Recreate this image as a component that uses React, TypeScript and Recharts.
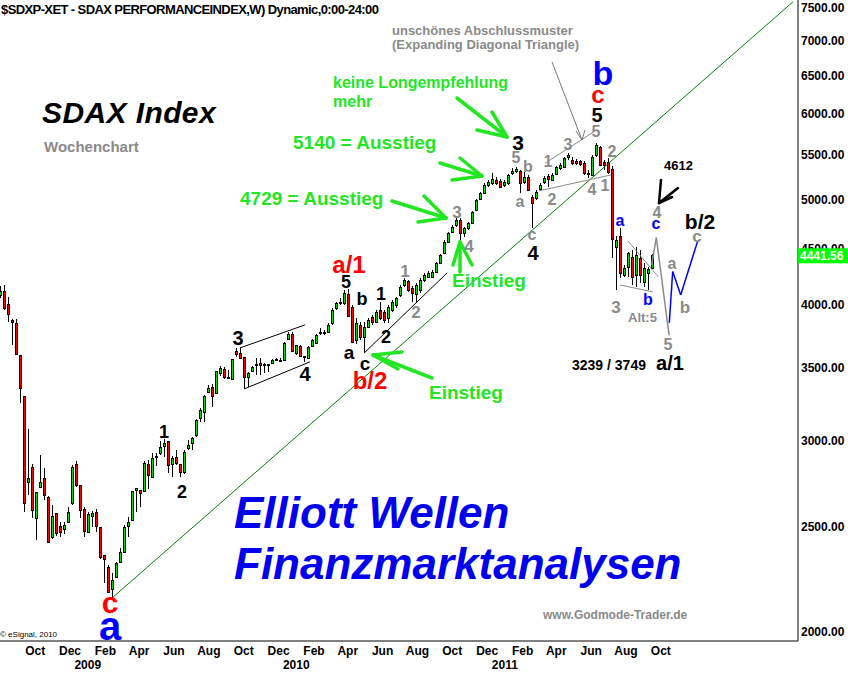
import React from 'react'
import { ComposedChart, Bar, XAxis, YAxis, ReferenceLine } from 'recharts'

// weekly candles [open, high, low, close]; bar 0 = week of 1 Aug 2008
const ohlc2008 = [
  [4085, 4160, 4060, 4120], [4119, 4171, 3956, 3973], [4007, 4067, 3857, 3923], [3873, 3881, 3673, 3857],
  [3849, 3881, 3597, 3605], [3597, 3597, 3250, 3354], [3298, 3298, 2579, 2629], [2749, 3075, 2674, 2772],
  [2837, 2855, 2547, 2590], [2547, 2692, 2431, 2692], [2720, 2910, 2720, 2749], [2772, 2831, 2645, 2674],
  [2663, 2669, 2420, 2420], [2446, 2617, 2436, 2557], [2574, 2574, 2452, 2467], [2504, 2525, 2446, 2472],
  [2488, 2525, 2462, 2509], [2525, 2606, 2520, 2579], [2629, 2849, 2617, 2837], [2855, 2873, 2720, 2732],
  [2732, 2732, 2547, 2590], [2595, 2606, 2446, 2478],
]
const ohlc2009 = [
  [2472, 2579, 2467, 2568], [2557, 2584, 2499, 2574], [2579, 2595, 2472, 2504], [2499, 2499, 2335, 2345],
  [2355, 2355, 2219, 2335], [2296, 2306, 2172, 2177], [2191, 2267, 2150, 2233], [2248, 2320, 2248, 2316],
  [2320, 2390, 2316, 2369], [2369, 2509, 2365, 2499], [2504, 2552, 2446, 2525], [2536, 2697, 2536, 2697],
  [2703, 2715, 2579, 2715], [2703, 2703, 2606, 2686], [2697, 2873, 2697, 2861], [2855, 2879, 2709, 2790],
  [2778, 2922, 2772, 2891], [2898, 2922, 2843, 2904], [2922, 2998, 2910, 2960], [2967, 3010, 2898, 2985],
  [2998, 2998, 2801, 2849], [2855, 2904, 2778, 2891], [2898, 2941, 2849, 2861], [2855, 2855, 2778, 2807],
  [2807, 2941, 2795, 2929], [2954, 3004, 2941, 2973], [2985, 3023, 2941, 3017], [3036, 3141, 3023, 3134],
  [3147, 3214, 3121, 3201], [3187, 3305, 3121, 3298], [3326, 3375, 3326, 3354], [3361, 3382, 3222, 3298],
  [3319, 3477, 3319, 3477], [3462, 3514, 3440, 3499], [3491, 3506, 3418, 3433], [3433, 3484, 3418, 3426],
  [3418, 3566, 3411, 3566], [3627, 3650, 3582, 3605], [3612, 3650, 3566, 3574], [3582, 3582, 3347, 3433],
  [3433, 3469, 3361, 3462], [3477, 3514, 3469, 3506], [3522, 3574, 3447, 3529], [3537, 3574, 3447, 3522],
  [3529, 3537, 3462, 3522], [3522, 3529, 3469, 3529], [3537, 3566, 3537, 3559], [3555, 3575, 3550, 3562],
  [3560, 3575, 3540, 3555], [3559, 3697, 3559, 3688], [3720, 3776, 3712, 3760], [3760, 3776, 3620, 3627],
]
const ohlc2010 = [
  [3612, 3673, 3597, 3673], [3665, 3673, 3582, 3590], [3582, 3590, 3544, 3590], [3574, 3665, 3566, 3658],
  [3665, 3720, 3658, 3712], [3688, 3760, 3681, 3752], [3768, 3808, 3752, 3776], [3776, 3792, 3752, 3768],
  [3776, 3849, 3768, 3833], [3849, 3973, 3833, 3956], [3973, 4024, 3956, 4015], [4015, 4059, 3998, 4024],
  [4015, 4128, 3998, 4102], [4093, 4136, 3898, 3906], [3982, 3998, 3688, 3697], [3712, 3890, 3681, 3849],
  [3833, 3857, 3712, 3736], [3736, 3857, 3612, 3817], [3817, 3890, 3808, 3873], [3898, 3915, 3833, 3857],
  [3857, 3956, 3849, 3940], [3956, 4024, 3873, 3890], [3940, 3956, 3849, 3873], [3890, 3998, 3849, 3982],
  [3956, 4041, 3940, 4024], [3998, 4067, 3973, 4059], [4085, 4171, 4067, 4154], [4171, 4234, 4154, 4216],
  [4207, 4216, 4110, 4128], [4145, 4162, 4024, 4102], [4093, 4189, 4024, 4171], [4128, 4234, 4102, 4216],
  [4216, 4279, 4198, 4261], [4243, 4297, 4234, 4279], [4243, 4306, 4234, 4288], [4288, 4380, 4279, 4371],
  [4371, 4455, 4362, 4446], [4465, 4589, 4455, 4570], [4570, 4667, 4560, 4657], [4667, 4737, 4657, 4717],
  [4737, 4808, 4717, 4787], [4787, 4808, 4589, 4657], [4657, 4717, 4618, 4707], [4707, 4767, 4687, 4757],
  [4757, 4880, 4747, 4870], [4890, 5006, 4880, 4994], [5006, 5081, 4994, 5070], [5070, 5178, 5059, 5156],
  [5156, 5211, 5135, 5189], [5178, 5289, 5156, 5222], [5211, 5244, 5156, 5178], [5200, 5222, 5124, 5135],
]
const ohlc2011 = [
  [5156, 5211, 5135, 5189], [5178, 5278, 5156, 5266], [5289, 5346, 5266, 5311], [5311, 5358, 5289, 5335],
  [5311, 5322, 5070, 5178], [5189, 5300, 5167, 5244], [5244, 5266, 5091, 5102], [5027, 5048, 4707, 4963],
  [5016, 5102, 4994, 5081], [5113, 5178, 5102, 5156], [5189, 5255, 5167, 5233], [5255, 5278, 5135, 5222],
  [5211, 5289, 5200, 5266], [5278, 5369, 5266, 5358], [5346, 5403, 5322, 5380], [5358, 5471, 5346, 5460],
  [5471, 5520, 5437, 5495], [5437, 5471, 5380, 5403], [5425, 5448, 5380, 5403], [5425, 5437, 5369, 5391],
  [5403, 5425, 5266, 5289], [5289, 5322, 5233, 5278], [5266, 5495, 5255, 5471], [5495, 5636, 5471, 5612],
  [5588, 5600, 5369, 5380], [5414, 5437, 5322, 5380], [5414, 5460, 5278, 5300], [5335, 5369, 4418, 4599],
  [4522, 4628, 4128, 4589], [4628, 4707, 4234, 4279], [4261, 4353, 4243, 4325], [4334, 4474, 4243, 4465],
  [4427, 4493, 4171, 4243], [4261, 4522, 4154, 4446], [4418, 4493, 4189, 4261], [4198, 4371, 4154, 4325],
  [4279, 4334, 4128, 4316], [4325, 4450, 4310, 4441.56],
]

const firstWeek = '2008-08-01'
const monthTickDates = [
  '2008-10-01', '2008-12-01', '2009-02-01', '2009-04-01', '2009-06-01', '2009-08-01', '2009-10-01',
  '2009-12-01', '2010-02-01', '2010-04-01', '2010-06-01', '2010-08-01', '2010-10-01', '2010-12-01',
  '2011-02-01', '2011-04-01', '2011-06-01', '2011-08-01', '2011-10-01',
]
const monthTickLabels = ['Oct', 'Dec', 'Feb', 'Apr', 'Jun', 'Aug', 'Oct', 'Dec', 'Feb', 'Apr', 'Jun', 'Aug', 'Oct', 'Dec', 'Feb', 'Apr', 'Jun', 'Aug', 'Oct']
const yearTickDates = ['2009-01-01', '2010-01-01', '2011-01-01']
const yearTickLabels = ['2009', '2010', '2011']
const priceTicks = [2000, 2500, 3000, 3500, 4000, 4500, 5000, 5500, 6000, 6500, 7000, 7500]
const priceDomain = [1962, 7628]

// drawn lines: [week index, price]
const trendMain = [[28, 2150], [198.2, 7600]]
const channelUpper2009 = [[59.9, 3650], [76.2, 3833]]
const channelLower2009 = [[61, 3347], [77.4, 3544]]
const support2010 = [[91, 3612], [111.7, 4279]]
const diagLower2011 = [[134.7, 5091], [152.7, 5266]]
const diagUpper2011 = [[136.2, 5398], [148.7, 5781]]
const triUpper2011 = [[156.9, 4579], [164.5, 4243]]
const triLower2011 = [[154.9, 4171], [163.2, 4110]]
const pathGray = [[162.85, 4353], [164, 4612], [167.2, 3749]]
const pathBlue = [[167.25, 3850], [168.1, 4291], [170.1, 4084], [174.3, 4572]]

const FONT = '"Liberation Sans", Arial, Helvetica, sans-serif'
const GRAY = '#8a8a8a'
const GREEN = '#22e622'
const RED = '#ff0000'
const BLUE = '#0000ff'
const UP = '#00e000'
const DOWN = '#ff0000'

const W = 848
const H = 675
const PLOT_W = 798
const PLOT_H = 641

const weekOf = (d: string) => (Date.parse(d) - Date.parse(firstWeek)) / (7 * 864e5)
const monthTicks = monthTickDates.map(weekOf)
const yearTicks = yearTickDates.map(weekOf)

const candles = [...ohlc2008, ...ohlc2009, ...ohlc2010, ...ohlc2011].map(([o, h, l, c], i) => ({
  i, o, h, l, c, range: [l, h],
}))
const lastClose = candles[candles.length - 1].c
// y of the last close on the log axis, for the price tag drawn above the axis labels
const tagY = (PLOT_H * (Math.log(priceDomain[1]) - Math.log(lastClose))) /
  (Math.log(priceDomain[1]) - Math.log(priceDomain[0]))

function Candle(props: any) {
  const { x, y, width, height } = props
  const p = props.payload || props
  if (!isFinite(y) || !isFinite(height)) return null
  const lh = Math.log(p.h)
  const span = lh - Math.log(p.l)
  const toY = (v: number) => y + (span > 0 ? (height * (lh - Math.log(v))) / span : 0)
  const cx = Math.round(x + width / 2)
  const top = Math.round(toY(Math.max(p.o, p.c)))
  const bot = Math.round(toY(Math.min(p.o, p.c)))
  const y0 = Math.round(y)
  const y1 = Math.round(y + height)
  return (
    <g>
      <rect x={cx} y={y0} width={1} height={Math.max(1, y1 - y0)} fill="#000" />
      <rect x={cx - 0.5} y={top + 0.5} width={2} height={Math.max(1, bot - top)}
        fill={p.c >= p.o ? UP : DOWN} stroke="#000" strokeWidth={1} />
    </g>
  )
}

function segs(pts: number[][], color: string, w = 1, key = '') {
  return pts.slice(1).map((pt, k) => (
    <ReferenceLine key={key + k} xAxisId="m" ifOverflow="visible" stroke={color} strokeWidth={w}
      segment={[{ x: pts[k][0], y: pts[k][1] }, { x: pt[0], y: pt[1] }]} />
  ))
}

type Note = { t: string; x: number; y: number; s: number; c?: string; a?: 'start' | 'middle'; i?: boolean; ls?: number; w?: number }
const notes: Note[] = [
  { t: '$SDXP-XET - SDAX PERFORMANCEINDEX,W) Dynamic,0:00-24:00', x: 1, y: 14, s: 13, a: 'start', ls: -0.6 },
  { t: 'SDAX Index', x: 42, y: 123, s: 30, a: 'start', i: true, ls: 0.4 },
  { t: 'Wochenchart', x: 44, y: 152, s: 15, c: GRAY, a: 'start' },
  { t: 'keine Longempfehlung', x: 333, y: 88, s: 16, c: GREEN, a: 'start' },
  { t: 'mehr', x: 333, y: 107, s: 16, c: GREEN, a: 'start' },
  { t: '5140 = Ausstieg', x: 293, y: 149, s: 19, c: GREEN, a: 'start' },
  { t: '4729 = Ausstieg', x: 240, y: 205, s: 19, c: GREEN, a: 'start' },
  { t: 'Einstieg', x: 452, y: 287, s: 19, c: GREEN, a: 'start' },
  { t: 'Einstieg', x: 429, y: 399, s: 19, c: GREEN, a: 'start' },
  { t: 'unschönes Abschlussmuster', x: 392, y: 35, s: 13, c: GRAY, a: 'start' },
  { t: '(Expanding Diagonal Triangle)', x: 392, y: 49, s: 13, c: GRAY, a: 'start' },
  { t: 'Elliott Wellen', x: 234, y: 528, s: 44, c: '#0000ee', a: 'start', i: true },
  { t: 'Finanzmarktanalysen', x: 234, y: 579, s: 44, c: '#0000ee', a: 'start', i: true },
  { t: 'www.Godmode-Trader.de', x: 543, y: 619, s: 12, c: GRAY, a: 'start' },
  { t: '© eSignal, 2010', x: 0, y: 637, s: 8, a: 'start', w: 400 },
  { t: '3239 / 3749', x: 572, y: 370, s: 14, a: 'start' },
  { t: '4612', x: 664, y: 170, s: 13, a: 'start' },
  { t: 'Alt:5', x: 628, y: 322, s: 13, c: GRAY, a: 'start' },
  { t: 'a', x: 110, y: 640, s: 40, c: BLUE },
  { t: 'c', x: 110, y: 613, s: 30, c: RED },
  { t: '1', x: 164, y: 438, s: 18 },
  { t: '2', x: 182, y: 498, s: 18 },
  { t: '3', x: 238, y: 345, s: 20 },
  { t: '4', x: 305, y: 381, s: 20 },
  { t: 'a/1', x: 349, y: 273, s: 24, c: RED },
  { t: '5', x: 346, y: 288, s: 18 },
  { t: 'b', x: 362, y: 305, s: 18 },
  { t: '1', x: 381, y: 300, s: 18 },
  { t: 'a', x: 349, y: 359, s: 19 },
  { t: '2', x: 386, y: 343, s: 18 },
  { t: 'c', x: 365, y: 370, s: 19 },
  { t: 'b/2', x: 370, y: 389, s: 24, c: RED },
  { t: '1', x: 405, y: 277, s: 17, c: GRAY },
  { t: '2', x: 416, y: 318, s: 17, c: GRAY },
  { t: '3', x: 457, y: 218, s: 17, c: GRAY },
  { t: '4', x: 469, y: 252, s: 17, c: GRAY },
  { t: '3', x: 518, y: 150, s: 21 },
  { t: '5', x: 516, y: 163, s: 16, c: GRAY },
  { t: 'b', x: 528, y: 172, s: 16, c: GRAY },
  { t: 'a', x: 520, y: 207, s: 16, c: GRAY },
  { t: 'c', x: 532, y: 240, s: 16, c: GRAY },
  { t: '4', x: 533, y: 260, s: 20 },
  { t: '1', x: 548, y: 167, s: 16, c: GRAY },
  { t: '2', x: 552, y: 205, s: 16, c: GRAY },
  { t: '3', x: 568, y: 150, s: 16, c: GRAY },
  { t: '4', x: 592, y: 195, s: 16, c: GRAY },
  { t: '1', x: 605, y: 191, s: 16, c: GRAY },
  { t: '2', x: 612, y: 157, s: 16, c: GRAY },
  { t: '5', x: 596, y: 137, s: 16, c: GRAY },
  { t: '5', x: 597, y: 122, s: 20 },
  { t: 'c', x: 598, y: 103, s: 24, c: RED },
  { t: 'b', x: 603, y: 85, s: 34, c: BLUE },
  { t: 'a', x: 620, y: 226, s: 16, c: BLUE },
  { t: '3', x: 616, y: 313, s: 17, c: GRAY },
  { t: 'b', x: 648, y: 305, s: 16, c: BLUE },
  { t: '4', x: 657, y: 218, s: 16, c: GRAY },
  { t: 'c', x: 656, y: 229, s: 16, c: BLUE },
  { t: 'a', x: 672, y: 269, s: 16, c: GRAY },
  { t: 'b', x: 685, y: 313, s: 17, c: GRAY },
  { t: 'b/2', x: 700, y: 229, s: 21 },
  { t: 'c', x: 697, y: 242, s: 17, c: GRAY },
  { t: '5', x: 668, y: 350, s: 16, c: GRAY },
  { t: 'a/1', x: 670, y: 370, s: 20 },
]

// hand drawn arrows: [x1, y1, x2, y2]
const greenArrows = [
  [457, 98, 507, 137], [492, 112, 507, 137], [477, 130, 507, 137],
  [440, 163, 482, 176], [460, 158, 482, 176], [452, 180, 482, 176],
  [392, 201, 446, 218], [424, 196, 446, 218], [418, 222, 446, 218],
  [460, 272, 460, 242], [453, 265, 460, 242], [472, 265, 460, 242],
  [432, 378, 373, 355], [402, 352, 373, 355], [398, 369, 373, 355],
]
const blackArrow = [[678, 188, 659, 203], [661, 180, 659, 203], [672, 197, 659, 203]]
const grayArrow = [[552, 62, 582, 140], [576, 131, 582, 140], [585, 130, 582, 140]]

export default function App() {
  const tick = { fontSize: 12, fontWeight: 700, fill: '#000', fontFamily: FONT }
  return (
    <div style={{ position: 'absolute', left: 0, top: 0, width: W, height: H, background: '#fff' }}>
      <ComposedChart width={W} height={H} data={candles} margin={{ top: 0, right: 0, bottom: 0, left: 0 }}>
        <XAxis xAxisId="m" type="number" dataKey="i" domain={[-0.075, 199.425]} allowDataOverflow
          ticks={monthTicks} interval={0} tickFormatter={(_v: number, k: number) => monthTickLabels[k]}
          height={17} tickLine={false} tickSize={3} tickMargin={2} axisLine={{ stroke: '#000' }} tick={tick} />
        <XAxis xAxisId="yr" type="number" dataKey="i" domain={[-0.075, 199.425]} allowDataOverflow
          ticks={yearTicks} interval={0} tickFormatter={(_v: number, k: number) => yearTickLabels[k]}
          height={17} tickLine={false} tickSize={0} tickMargin={2} axisLine={false} tick={tick} />
        <YAxis orientation="right" scale="log" domain={priceDomain} allowDataOverflow ticks={priceTicks}
          interval={0} width={W - PLOT_W} tickLine={false} tickSize={0} tickMargin={3} axisLine={{ stroke: '#000' }}
          tickFormatter={(v: number) => v.toFixed(2)} tick={tick} />
        {segs(trendMain, '#008000', 1, 'tm')}
        {segs(channelUpper2009, '#000', 1, 'cu')}
        {segs(channelLower2009, '#000', 1, 'cl')}
        {segs(support2010, '#000', 1, 's10')}
        {segs(diagLower2011, GRAY, 1, 'dl')}
        {segs(diagUpper2011, GRAY, 1, 'du')}
        {segs(triUpper2011, GRAY, 1, 'tu')}
        {segs(triLower2011, GRAY, 1, 'tl')}
        {segs(pathGray, GRAY, 1.5, 'pg')}
        {segs(pathBlue, BLUE, 1.5, 'pb')}
        <Bar xAxisId="m" dataKey="range" barSize={3} shape={Candle} isAnimationActive={false} />
      </ComposedChart>
      <svg width={W} height={H} style={{ position: 'absolute', left: 0, top: 0, pointerEvents: 'none' }}>
        {greenArrows.map((a, k) => (
          <line key={'g' + k} x1={a[0]} y1={a[1]} x2={a[2]} y2={a[3]} stroke={GREEN} strokeWidth={3.5} strokeLinecap="round" />
        ))}
        {blackArrow.map((a, k) => (
          <line key={'b' + k} x1={a[0]} y1={a[1]} x2={a[2]} y2={a[3]} stroke="#000" strokeWidth={2.5} strokeLinecap="round" />
        ))}
        {grayArrow.map((a, k) => (
          <line key={'r' + k} x1={a[0]} y1={a[1]} x2={a[2]} y2={a[3]} stroke="#777" strokeWidth={1} />
        ))}
        {notes.map((n, k) => (
          <text key={'n' + k} x={n.x} y={n.y} fontSize={n.s} fill={n.c || '#000'} textAnchor={n.a || 'middle'}
            fontFamily={FONT} fontWeight={n.w || 700} fontStyle={n.i ? 'italic' : 'normal'} letterSpacing={n.ls || 0}>
            {n.t}
          </text>
        ))}
        <rect x={PLOT_W} y={tagY - 7} width={W - PLOT_W} height={15} fill="#00ff00" />
        <text x={PLOT_W + 2} y={tagY + 5} fill="#fff" fontSize={12} fontWeight={700} fontFamily={FONT}>
          {lastClose.toFixed(2)}
        </text>
      </svg>
    </div>
  )
}
